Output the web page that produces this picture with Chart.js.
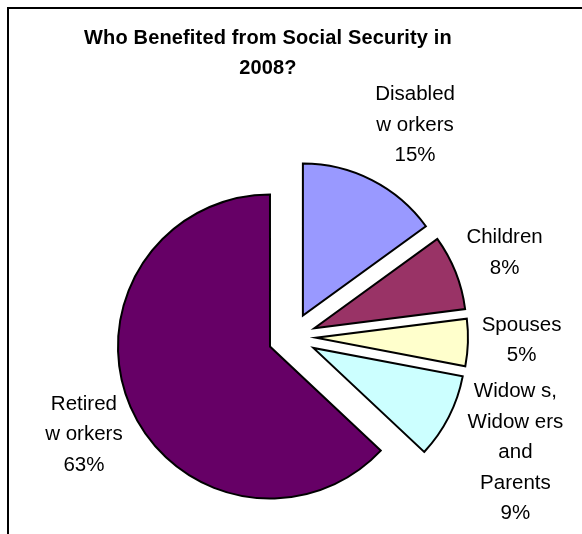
<!DOCTYPE html>
<html>
<head>
<meta charset="utf-8">
<title>Who Benefited from Social Security in 2008?</title>
<script src="https://cdn.jsdelivr.net/npm/chart.js@4.4.0/dist/chart.umd.min.js"></script>
<style>
  body { margin: 0; width: 582px; height: 534px; overflow: hidden; background: #fff; position: relative;
         font-family: "Liberation Sans", Arial, sans-serif; }
  #marco { position: absolute; left: 7px; top: 7px; width: 700px; height: 700px; border: 2px solid #000; box-sizing: border-box; }
  #titulo { position: absolute; left: 8px; width: 520px; top: 22px; text-align: center; font-weight: bold;
            font-size: 20px; letter-spacing: 0.15px; line-height: 30px; color: #000; }
  #grafica { position: absolute; left: 0; top: 0; }
</style>
</head>
<body>
<div id="marco"></div>
<canvas id="grafica" width="582" height="534"></canvas>
<div id="titulo">Who Benefited from Social Security in<br>2008?</div>
<script>
// Datos de la gráfica
const categorias = [['Disabled', 'w orkers'], ['Children'], ['Spouses'], ['Widow s,', 'Widow ers', 'and', 'Parents'], ['Retired', 'w orkers']];
const porcentajes = [15, 8, 5, 9, 63];
const colores = ['#9999FF', '#993366', '#FFFFCC', '#CCFFFF', '#660066'];

const separacion = 24; // cuanto se aleja cada porción del centro
const altoLinea = 30.5;
// pequeño ajuste a mano de cada etiqueta [x, y]
const ajusteEtiquetas = [[14, 2], [-2, 1], [3, -4], [-9, -3], [10, 3]];

// Separar las porciones del pastel
const separarPorciones = {
    id: 'separarPorciones',
    afterDatasetUpdate(chart, args) {
        args.meta.data.forEach(function (arco) {
            const medio = (arco.startAngle + arco.endAngle) / 2;
            arco.x += Math.cos(medio) * separacion;
            arco.y += Math.sin(medio) * separacion;
        });
    }
};

// Etiquetas con nombre y porcentaje fuera de cada porción
const etiquetas = {
    id: 'etiquetas',
    afterDatasetsDraw(chart) {
        const ctx = chart.ctx;
        const arcos = chart.getDatasetMeta(0).data;
        ctx.save();
        ctx.font = '20.5px "Liberation Sans", Arial, sans-serif';
        ctx.fillStyle = '#000';
        ctx.textAlign = 'center';
        ctx.textBaseline = 'middle';
        arcos.forEach(function (arco, i) {
            const lineas = categorias[i].concat([porcentajes[i] + '%']);
            const ancho = Math.max(...lineas.map(l => ctx.measureText(l).width));
            const alto = (lineas.length - 1) * altoLinea + 20;
            const medio = (arco.startAngle + arco.endAngle) / 2;
            const dx = Math.cos(medio), dy = Math.sin(medio);
            const ext = Math.abs(dx) * ancho / 2 + Math.abs(dy) * alto / 2;
            const dist = arco.outerRadius + 10 + ext;
            const cx = arco.x + dx * dist + ajusteEtiquetas[i][0];
            const cy = arco.y + dy * dist + ajusteEtiquetas[i][1];
            lineas.forEach(function (linea, j) {
                ctx.fillText(linea, cx, cy + (j - (lineas.length - 1) / 2) * altoLinea);
            });
        });
        ctx.restore();
    }
};

// Crear la gráfica
var miGrafica = new Chart(document.getElementById('grafica'), {
    type: 'pie',
    data: {
        labels: categorias,
        datasets: [{
            data: porcentajes,
            backgroundColor: colores,
            borderColor: '#000',
            borderWidth: 2,
            borderJoinStyle: 'miter'
        }]
    },
    options: {
        responsive: false,
        animation: false,
        events: [],
        radius: 152,
        layout: { padding: { left: 10, right: 8, top: 150, bottom: 10 } },
        plugins: {
            legend: { display: false },
            title: { display: false },
            tooltip: { enabled: false }
        }
    },
    plugins: [separarPorciones, etiquetas]
});
</script>
</body>
</html>
